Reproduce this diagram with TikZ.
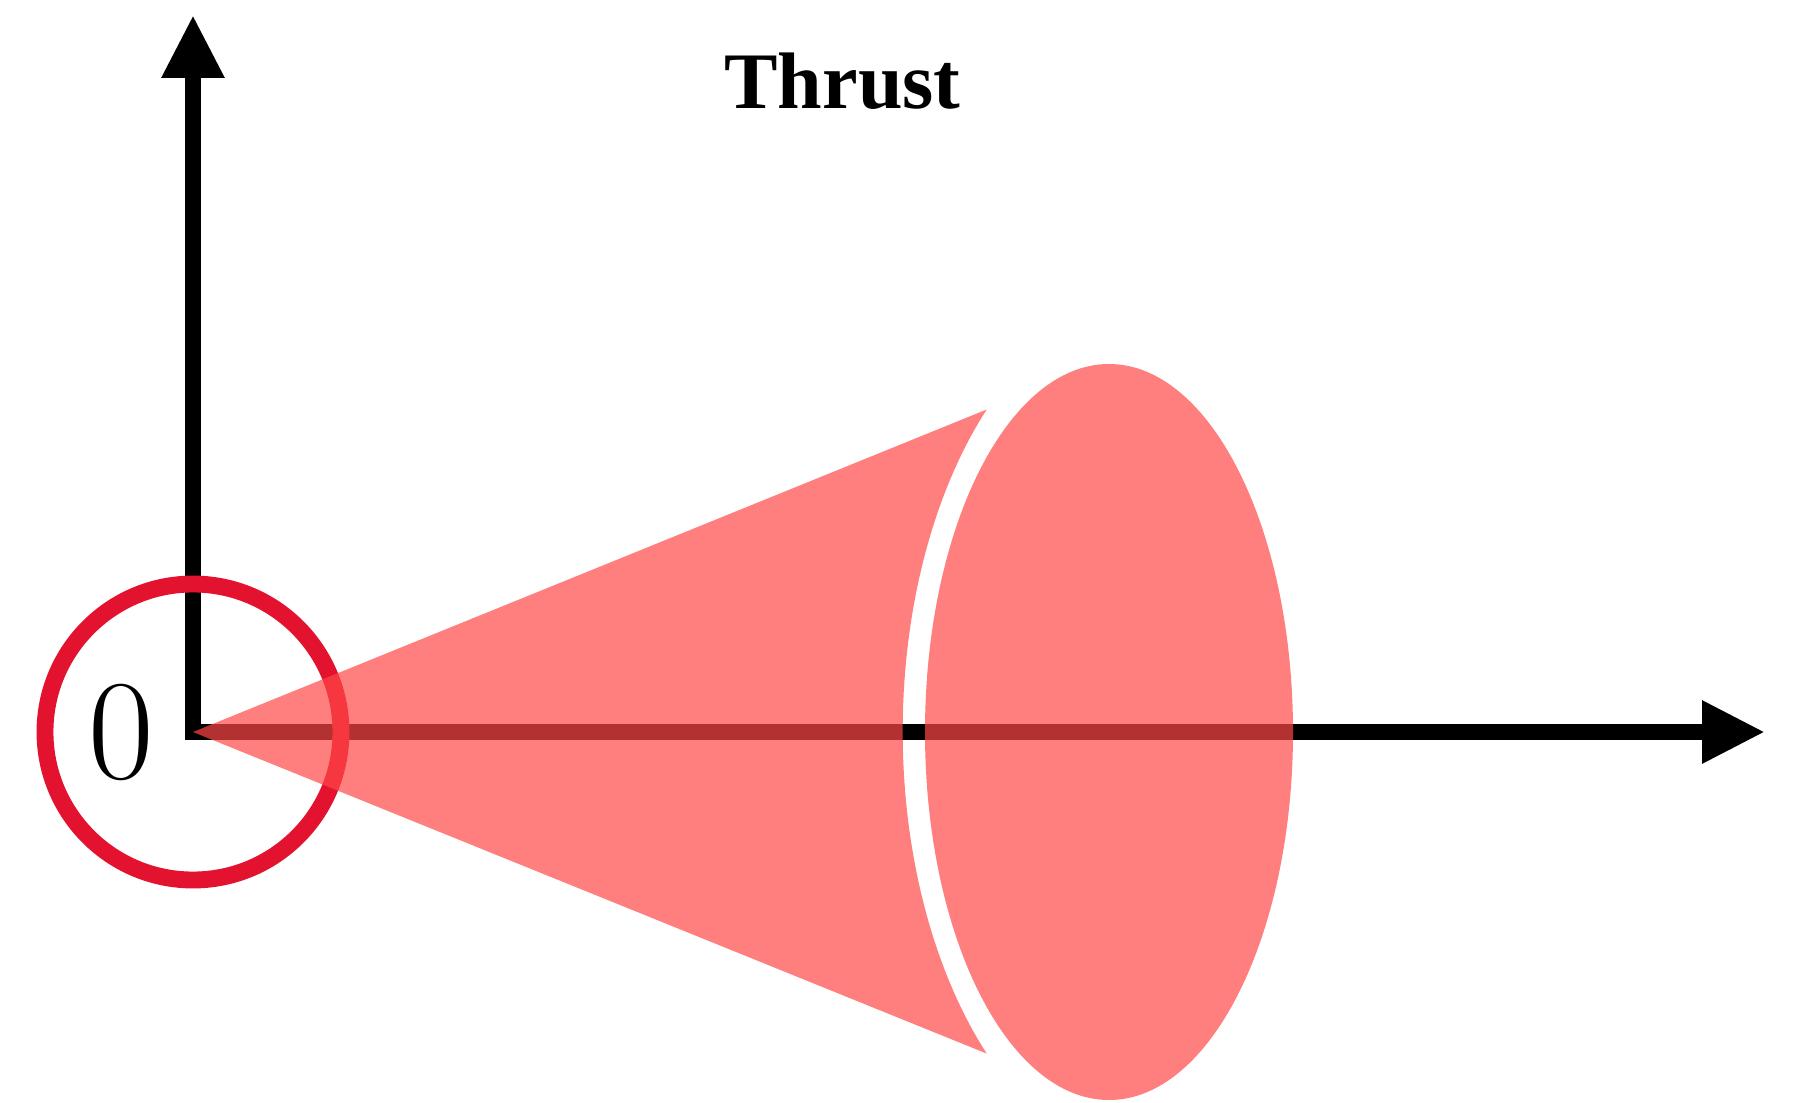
\documentclass[tikz,border=0pt]{standalone}
\usepackage{fontspec}
\newfontfamily\labelfont{Liberation Serif}
\usepackage{xcolor}
\usepackage{tikz}
\usetikzlibrary{arrows.meta, positioning, calc}
\definecolor{ringred}{RGB}{227,18,47}
\definecolor{thrustred}{RGB}{255,71,71}

\begin{document}
\begin{tikzpicture}[
  axis/.style={line width=4.3pt, {Triangle[length=6.3mm, width=5.9mm]}-{Triangle[length=6.3mm, width=5.9mm]}},
  ring/.style={draw=ringred, line width=4.8pt},
  beam/.style={fill=thrustred, fill opacity=0.7},
  zero/.style={font=\fontsize{40.6}{44}\selectfont, inner sep=0pt},
  title/.style={font=\labelfont\bfseries\fontsize{22.8}{26}\selectfont, inner sep=0pt, anchor=base}
]
\useasboundingbox (-1.93,-3.70) rectangle (16.06,7.32);
\coordinate (O) at (0,0);
\coordinate (ytip) at (0,7.17);
\coordinate (xtip) at (15.72,0);
\coordinate (conetop) at (7.937,3.225);
\draw[axis] (ytip) -- (O) -- (xtip);
\draw[ring] (O) circle (1.48);
\node[zero] (zerolabel) at (-0.715,-0.005) {0};
\path[beam] (O) -- (conetop) arc[start angle=132.6, end angle=227.4, x radius=2.60, y radius=4.375] -- cycle;
\path[beam] (9.16,0) ellipse[x radius=1.84, y radius=3.68];
\node[title] (thrust) at (6.495,6.23) {Thrust};
\end{tikzpicture}
\end{document}
